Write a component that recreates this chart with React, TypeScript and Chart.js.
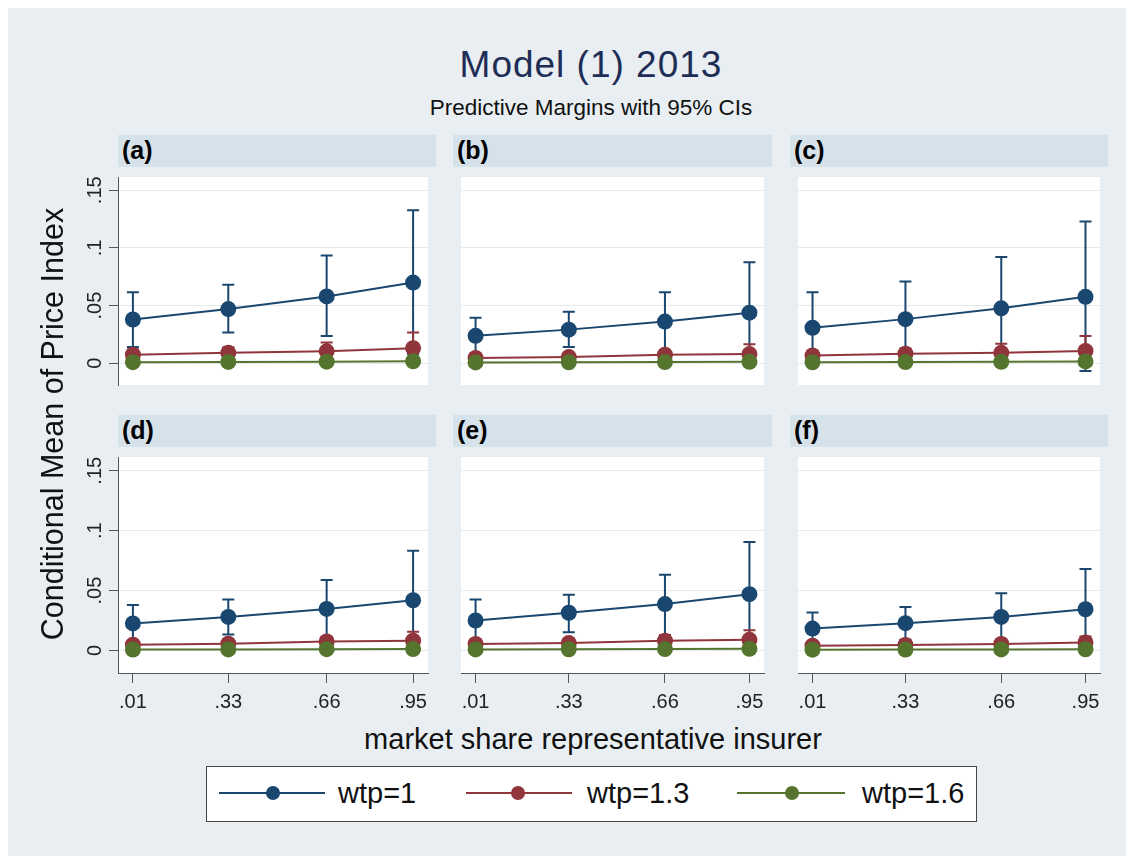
import React, { useEffect, useRef } from "react";
import { Chart, registerables } from "chart.js";

Chart.register(...registerables);

const FONT = '"Liberation Sans", Arial, Helvetica, sans-serif';

// ---------- data ----------
const marketShare = [0.01, 0.33, 0.66, 0.95];
const xTickLabels = [".01", ".33", ".66", ".95"];
const yTickValues = [0, 0.05, 0.1, 0.15];
const yTickLabels = ["0", ".05", ".1", ".15"];
const seriesLabels = ["wtp=1", "wtp=1.3", "wtp=1.6"];
const panelLabels = ["(a)", "(b)", "(c)", "(d)", "(e)", "(f)"];

// panel (a)
const aWtp1 = [0.038, 0.047, 0.058, 0.07];
const aWtp1Low = [0.0142, 0.0268, 0.0236, 0.008];
const aWtp1High = [0.0616, 0.068, 0.0935, 0.1326];
const aWtp13 = [0.0075, 0.0091, 0.0104, 0.0131];
const aWtp13Low = [0.003, 0.004, 0.003, -0.0005];
const aWtp13High = [0.012, 0.014, 0.018, 0.0268];
const aWtp16 = [0.001, 0.0012, 0.0014, 0.0018];
const aWtp16Low = [0.0004, 0.0005, 0.0005, 0.0006];
const aWtp16High = [0.0016, 0.0019, 0.0023, 0.003];

// panel (b)
const bWtp1 = [0.0238, 0.0292, 0.0362, 0.0439];
const bWtp1Low = [0.008, 0.0142, 0.011, 0.0005];
const bWtp1High = [0.0394, 0.0447, 0.0616, 0.0876];
const bWtp13 = [0.0046, 0.0054, 0.0075, 0.008];
const bWtp13Low = [0.001, 0.001, 0.002, 0.0];
const bWtp13High = [0.008, 0.009, 0.011, 0.0166];
const bWtp16 = [0.0008, 0.0009, 0.0011, 0.0013];
const bWtp16Low = [0.0003, 0.0004, 0.0004, 0.0005];
const bWtp16High = [0.0013, 0.0015, 0.0018, 0.0022];

// panel (c)
const cWtp1 = [0.0308, 0.0383, 0.0477, 0.0576];
const cWtp1Low = [0.0, 0.006, 0.003, -0.0067];
const cWtp1High = [0.0616, 0.071, 0.0921, 0.123];
const cWtp13 = [0.0067, 0.0083, 0.0091, 0.0107];
const cWtp13Low = [0.002, 0.003, 0.002, -0.002];
const cWtp13High = [0.011, 0.0129, 0.0169, 0.0236];
const cWtp16 = [0.0009, 0.0011, 0.0013, 0.0016];
const cWtp16Low = [0.0003, 0.0004, 0.0005, 0.0005];
const cWtp16High = [0.0015, 0.0018, 0.0021, 0.0027];

// panel (d)
const dWtp1 = [0.0226, 0.028, 0.0347, 0.0419];
const dWtp1Low = [0.008, 0.0134, 0.0113, 0.002];
const dWtp1High = [0.0379, 0.0425, 0.0589, 0.0833];
const dWtp13 = [0.0048, 0.0056, 0.0075, 0.0081];
const dWtp13Low = [0.001, 0.001, 0.002, 0.001];
const dWtp13High = [0.008, 0.009, 0.011, 0.0156];
const dWtp16 = [0.0008, 0.0009, 0.0011, 0.0012];
const dWtp16Low = [0.0003, 0.0004, 0.0004, 0.0004];
const dWtp16High = [0.0013, 0.0014, 0.0018, 0.002];

// panel (e)
const eWtp1 = [0.025, 0.0315, 0.0387, 0.047];
const eWtp1Low = [0.008, 0.0153, 0.0129, 0.003];
const eWtp1High = [0.0425, 0.0465, 0.0632, 0.0906];
const eWtp13 = [0.0054, 0.0062, 0.0081, 0.0089];
const eWtp13Low = [0.001, 0.001, 0.002, 0.001];
const eWtp13High = [0.009, 0.01, 0.013, 0.0169];
const eWtp16 = [0.0009, 0.001, 0.0012, 0.0014];
const eWtp16Low = [0.0003, 0.0004, 0.0004, 0.0005];
const eWtp16High = [0.0015, 0.0016, 0.002, 0.0023];

// panel (f)
const fWtp1 = [0.0183, 0.0228, 0.028, 0.0344];
const fWtp1Low = [0.006, 0.0089, 0.008, 0.002];
const fWtp1High = [0.0317, 0.0363, 0.0478, 0.068];
const fWtp13 = [0.004, 0.0046, 0.0054, 0.0067];
const fWtp13Low = [0.001, 0.001, 0.001, 0.001];
const fWtp13High = [0.007, 0.0075, 0.009, 0.0116];
const fWtp16 = [0.0007, 0.0008, 0.0009, 0.001];
const fWtp16Low = [0.0003, 0.0003, 0.0003, 0.0004];
const fWtp16High = [0.0011, 0.0013, 0.0015, 0.0016];

const panelMeans = [
  [aWtp1, aWtp13, aWtp16],
  [bWtp1, bWtp13, bWtp16],
  [cWtp1, cWtp13, cWtp16],
  [dWtp1, dWtp13, dWtp16],
  [eWtp1, eWtp13, eWtp16],
  [fWtp1, fWtp13, fWtp16],
];
const panelLows = [
  [aWtp1Low, aWtp13Low, aWtp16Low],
  [bWtp1Low, bWtp13Low, bWtp16Low],
  [cWtp1Low, cWtp13Low, cWtp16Low],
  [dWtp1Low, dWtp13Low, dWtp16Low],
  [eWtp1Low, eWtp13Low, eWtp16Low],
  [fWtp1Low, fWtp13Low, fWtp16Low],
];
const panelHighs = [
  [aWtp1High, aWtp13High, aWtp16High],
  [bWtp1High, bWtp13High, bWtp16High],
  [cWtp1High, cWtp13High, cWtp16High],
  [dWtp1High, dWtp13High, dWtp16High],
  [eWtp1High, eWtp13High, eWtp16High],
  [fWtp1High, fWtp13High, fWtp16High],
];

// ---------- styling / layout ----------
const seriesColors = ["#1a476f", "#90353b", "#55752f"];
const BG = "#e8eef1";
const STRIP = "#d6e2ea";
const GRID = "#e3ebef";
const AXIS = "#555555";

const PLOT_LEFT = [118, 453, 790];
const PLOT_W = [318, 319, 318];
const PLOT_TOP = [169, 449];
const PLOT_H = 224;
const STRIP_TOP = [135, 415];
const STRIP_H = 32;
const X_MIN = -0.04;
const X_MAX = 1.0;
const Y_MIN = -0.0188;
const Y_MAX = 0.1615;
const OFF = 8; // body margin

const ciPlugin = {
  id: "ciBars",
  beforeDatasetDraw(chart: any, args: any) {
    const ds = chart.data.datasets[args.index];
    if (!ds.ciLow) return;
    const { ctx, scales } = chart;
    const xs = scales.x;
    const ys = scales.y;
    ctx.save();
    ctx.strokeStyle = ds.borderColor;
    ctx.lineWidth = 2;
    ds.data.forEach((pt: any, i: number) => {
      const px = xs.getPixelForValue(pt.x);
      const pl = ys.getPixelForValue(ds.ciLow[i]);
      const ph = ys.getPixelForValue(ds.ciHigh[i]);
      ctx.beginPath();
      ctx.moveTo(px, pl);
      ctx.lineTo(px, ph);
      ctx.moveTo(px - 6, pl);
      ctx.lineTo(px + 6, pl);
      ctx.moveTo(px - 6, ph);
      ctx.lineTo(px + 6, ph);
      ctx.stroke();
    });
    ctx.restore();
  },
};

const whiteArea = {
  id: "whiteArea",
  beforeDraw(chart: any) {
    const { ctx, chartArea } = chart;
    ctx.save();
    ctx.fillStyle = "#ffffff";
    ctx.fillRect(chartArea.left, chartArea.top, chartArea.right - chartArea.left, chartArea.bottom - chartArea.top);
    ctx.restore();
  },
};

function PanelChart({ index }: { index: number }) {
  const ref = useRef<HTMLCanvasElement>(null);
  const row = Math.floor(index / 3);
  const col = index % 3;
  const yAxisW = col === 0 ? 60 : 0;
  const xAxisH = row === 1 ? 50 : 0;
  const w = PLOT_W[col] + yAxisW;
  const h = PLOT_H + xAxisH;

  useEffect(() => {
    const datasets = seriesLabels.map((label, k) => ({
      label,
      data: marketShare.map((x, i) => ({ x, y: panelMeans[index][k][i] })),
      ciLow: panelLows[index][k],
      ciHigh: panelHighs[index][k],
      borderColor: seriesColors[k],
      backgroundColor: seriesColors[k],
      pointBackgroundColor: seriesColors[k],
      pointBorderColor: seriesColors[k],
      pointBorderWidth: 0,
      pointRadius: 8,
      borderWidth: 2,
      tension: 0,
      order: 3 - k,
    }));
    const chart = new Chart(ref.current as HTMLCanvasElement, {
      type: "line",
      data: { datasets: datasets as any },
      plugins: [whiteArea, ciPlugin],
      options: {
        animation: false,
        responsive: false,
        maintainAspectRatio: false,
        layout: { padding: 0 },
        plugins: { legend: { display: false }, tooltip: { enabled: false }, title: { display: false } },
        scales: {
          x: {
            type: "linear",
            min: X_MIN,
            max: X_MAX,
            display: row === 1,
            grid: { drawOnChartArea: false, drawTicks: true, tickLength: 10, tickColor: AXIS, lineWidth: 1 },
            border: { display: true, color: AXIS, width: 1 },
            ticks: {
              autoSkip: false,
              maxRotation: 0,
              minRotation: 0,
              padding: 7,
              color: "#222",
              font: { family: FONT, size: 20 },
              callback: (v: any) => {
                const i = marketShare.indexOf(Number(v));
                return i >= 0 ? xTickLabels[i] : "";
              },
            },
            afterBuildTicks: (s: any) => {
              s.ticks = marketShare.map((v) => ({ value: v }));
            },
            afterFit: (s: any) => {
              s.height = xAxisH;
              s.paddingLeft = 0;
              s.paddingRight = 0;
            },
          },
          y: {
            type: "linear",
            min: Y_MIN,
            max: Y_MAX,
            position: "left",
            grid: {
              color: GRID,
              lineWidth: 1,
              drawTicks: col === 0,
              tickLength: 9,
              tickColor: AXIS,
            },
            border: { display: col === 0, color: AXIS, width: 1 },
            ticks: {
              display: col === 0,
              minRotation: 90,
              maxRotation: 90,
              crossAlign: "center",
              padding: 0,
              color: "#222",
              font: { family: FONT, size: 20 },
              callback: (v: any) => {
                const i = yTickValues.indexOf(Number(v));
                return i >= 0 ? yTickLabels[i] : "";
              },
            },
            afterBuildTicks: (s: any) => {
              s.ticks = yTickValues.map((v) => ({ value: v }));
            },
            afterFit: (s: any) => {
              s.width = yAxisW;
              s.paddingTop = 0;
              s.paddingBottom = 0;
            },
          },
        },
      } as any,
    });
    return () => chart.destroy();
  }, [index]);

  return (
    <canvas
      ref={ref}
      width={w}
      height={h}
      style={{
        position: "absolute",
        left: PLOT_LEFT[col] - yAxisW - OFF,
        top: PLOT_TOP[row] - OFF,
        width: w,
        height: h,
      }}
    />
  );
}

function Strip({ index }: { index: number }) {
  const row = Math.floor(index / 3);
  const col = index % 3;
  return (
    <div
      style={{
        position: "absolute",
        left: PLOT_LEFT[col] - OFF,
        top: STRIP_TOP[row] - OFF,
        width: PLOT_W[col],
        height: STRIP_H,
        background: STRIP,
      }}
    >
      <div
        style={{
          position: "absolute",
          left: 4,
          top: 3,
          font: `bold 25px ${FONT}`,
          lineHeight: "25px",
          color: "#000",
        }}
      >
        {panelLabels[index]}
      </div>
    </div>
  );
}

const legendItems = [
  { lineLeft: 219, lineRight: 325, marker: 273, text: 338 },
  { lineLeft: 466, lineRight: 572, marker: 518, text: 587 },
  { lineLeft: 737, lineRight: 845, marker: 792, text: 862 },
];

export default function App() {
  return (
    <div
      style={{
        position: "relative",
        width: 1118,
        height: 848,
        background: BG,
        fontFamily: FONT,
        overflow: "hidden",
      }}
    >
      <div
        style={{
          position: "absolute",
          left: 591 - 300 - OFF,
          width: 600,
          top: 46 - OFF,
          textAlign: "center",
          fontSize: 37,
          lineHeight: "37px",
          letterSpacing: 1,
          color: "#1e2d55",
          whiteSpace: "nowrap",
        }}
      >
        Model (1) 2013
      </div>
      <div
        style={{
          position: "absolute",
          left: 591 - 300 - OFF,
          width: 600,
          top: 97 - OFF,
          textAlign: "center",
          fontSize: 22.5,
          lineHeight: "22px",
          color: "#111",
          whiteSpace: "nowrap",
        }}
      >
        Predictive Margins with 95% CIs
      </div>

      {panelLabels.map((_, i) => (
        <Strip key={"s" + i} index={i} />
      ))}
      {panelLabels.map((_, i) => (
        <PanelChart key={"p" + i} index={i} />
      ))}

      <div
        style={{
          position: "absolute",
          left: 52 - 300 - OFF,
          top: 424 - 20 - OFF,
          width: 600,
          height: 40,
          lineHeight: "40px",
          textAlign: "center",
          fontSize: 30.5,
          color: "#111",
          transform: "rotate(-90deg)",
          transformOrigin: "50% 50%",
          whiteSpace: "nowrap",
        }}
      >
        Conditional Mean of Price Index
      </div>

      <div
        style={{
          position: "absolute",
          left: 593 - 300 - OFF,
          top: 725 - OFF,
          width: 600,
          textAlign: "center",
          fontSize: 29,
          lineHeight: "29px",
          color: "#111",
          whiteSpace: "nowrap",
        }}
      >
        market share representative insurer
      </div>

      <div
        style={{
          position: "absolute",
          left: 206 - OFF,
          top: 766 - OFF,
          width: 769,
          height: 54,
          background: "#fff",
          border: "1px solid #444",
        }}
      />
      {legendItems.map((it, k) => (
        <React.Fragment key={"l" + k}>
          <div
            style={{
              position: "absolute",
              left: it.lineLeft - OFF,
              top: 793 - 1 - OFF,
              width: it.lineRight - it.lineLeft,
              height: 2,
              background: seriesColors[k],
            }}
          />
          <div
            style={{
              position: "absolute",
              left: it.marker - 7 - OFF,
              top: 793 - 7 - OFF,
              width: 14,
              height: 14,
              borderRadius: "50%",
              background: seriesColors[k],
            }}
          />
          <div
            style={{
              position: "absolute",
              left: it.text - OFF,
              top: 793 - 20 - OFF,
              height: 40,
              lineHeight: "40px",
              fontSize: 29,
              color: "#111",
              whiteSpace: "nowrap",
            }}
          >
            {seriesLabels[k]}
          </div>
        </React.Fragment>
      ))}
    </div>
  );
}
